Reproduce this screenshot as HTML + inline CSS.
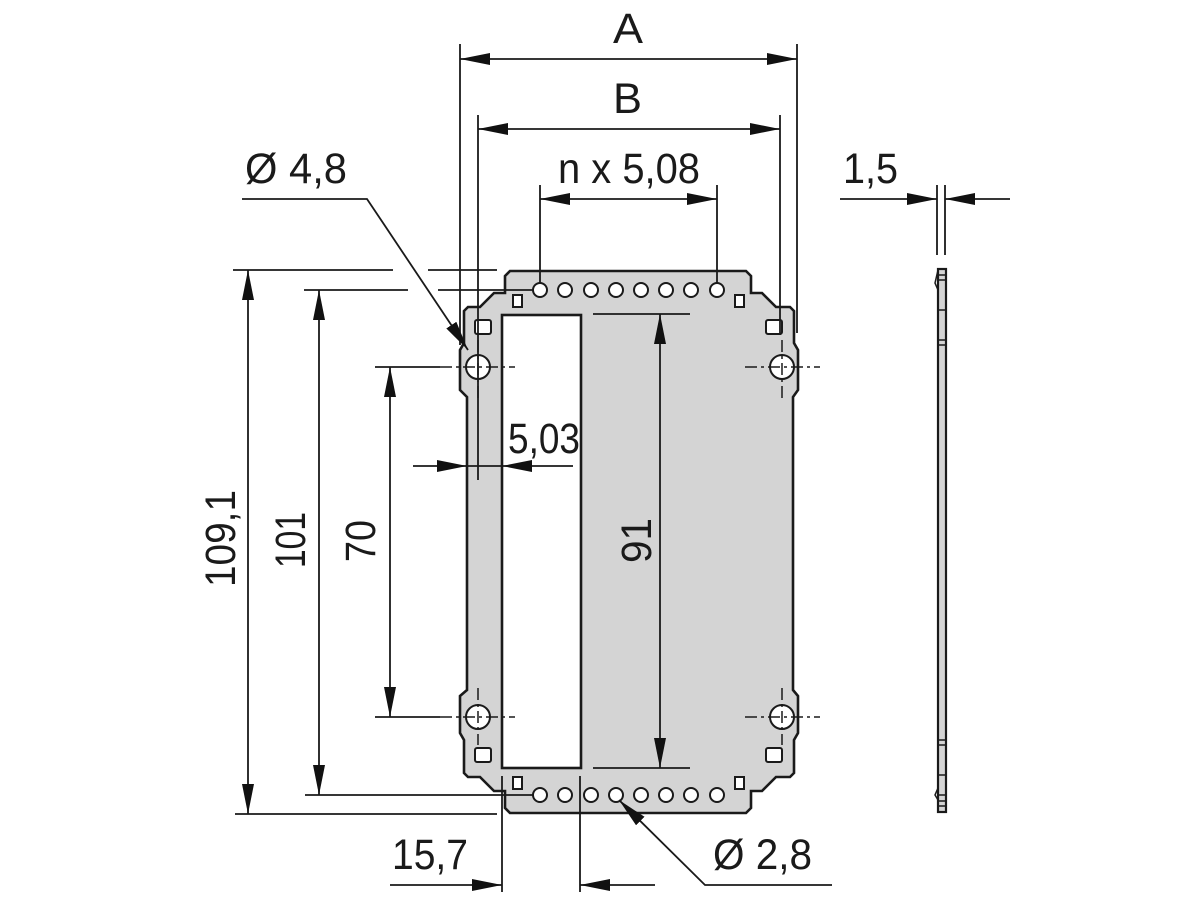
<!DOCTYPE html>
<html><head><meta charset="utf-8"><style>
html,body{margin:0;padding:0;background:#fff;}
svg{display:block;}
text{font-family:"Liberation Sans Narrow","Liberation Sans",sans-serif;fill:#1a1a1a;}
</style></head><body>
<svg width="1200" height="900" viewBox="0 0 1200 900" xmlns="http://www.w3.org/2000/svg">
<defs>
<marker id="ar" viewBox="0 0 30 12" refX="30" refY="6" markerWidth="30" markerHeight="12" markerUnits="userSpaceOnUse" orient="auto-start-reverse">
<path d="M0,0 L30,6 L0,12 Z" fill="#111"/>
</marker>
</defs>
<g stroke="#1a1a1a" stroke-width="2" fill="none">
<path fill="#d4d4d4" stroke-width="2.6" d="M510,271 L746,271 L751,276 L751,293 L762,293 L776,307 L790,307 L794,311 L794,343 L798,350 L798,390 L793,397 L793,690 L798,696 L798,733 L794,740 L794,773 L790,777 L776,777 L762,791 L751,791 L751,808 L746,813 L510,813 L505,808 L505,791 L494,791 L480,777 L468,777 L464,773 L464,740 L460,733 L460,696 L467,690 L467,397 L460,390 L460,350 L464,343 L464,311 L468,307 L480,307 L494,293 L505,293 L505,276 Z"/>
<rect x="502" y="315" width="79" height="453" fill="#fff" stroke-width="2.6"/>
<g fill="#fff" stroke-width="2">
<circle cx="540" cy="290" r="7"/><circle cx="565" cy="290" r="7"/><circle cx="591" cy="290" r="7"/><circle cx="616" cy="290" r="7"/><circle cx="641" cy="290" r="7"/><circle cx="666" cy="290" r="7"/><circle cx="691" cy="290" r="7"/><circle cx="717" cy="290" r="7"/>
<circle cx="540" cy="795" r="7"/><circle cx="565" cy="795" r="7"/><circle cx="591" cy="795" r="7"/><circle cx="616" cy="795" r="7"/><circle cx="641" cy="795" r="7"/><circle cx="666" cy="795" r="7"/><circle cx="691" cy="795" r="7"/><circle cx="717" cy="795" r="7"/>
<circle cx="478" cy="367" r="12"/><circle cx="782" cy="367" r="12"/><circle cx="478" cy="717" r="12"/><circle cx="782" cy="717" r="12"/>
<rect x="475" y="320" width="16" height="14" rx="2"/><rect x="766" y="320" width="16" height="14" rx="2"/>
<rect x="475" y="748" width="16" height="14" rx="2"/><rect x="766" y="748" width="16" height="14" rx="2"/>
<rect x="513" y="295" width="9" height="12"/><rect x="735" y="295" width="9" height="12"/>
<rect x="513" y="777" width="9" height="12"/><rect x="735" y="777" width="9" height="12"/>
</g>
<g stroke-width="1.5" stroke-dasharray="12,4,3,4">
<line x1="440" y1="367" x2="515" y2="367"/><line x1="745" y1="367" x2="820" y2="367"/>
<line x1="440" y1="717" x2="515" y2="717"/><line x1="745" y1="717" x2="820" y2="717"/>
<line x1="478" y1="340" x2="478" y2="400"/><line x1="782" y1="340" x2="782" y2="400"/>
<line x1="478" y1="688" x2="478" y2="745"/><line x1="782" y1="688" x2="782" y2="745"/>
</g>
<g stroke-width="1.8">
<line x1="460" y1="44" x2="460" y2="345"/><line x1="797" y1="44" x2="797" y2="333"/>
<line x1="478" y1="115" x2="478" y2="480"/><line x1="780" y1="115" x2="780" y2="335"/>
<line x1="540" y1="185" x2="540" y2="283"/><line x1="717" y1="185" x2="717" y2="283"/>
<line x1="937" y1="185" x2="937" y2="255"/><line x1="945" y1="185" x2="945" y2="255"/>
<line x1="233" y1="270" x2="393" y2="270"/><line x1="428" y1="270" x2="497" y2="270"/>
<line x1="304" y1="290" x2="408" y2="290"/><line x1="438" y1="290" x2="533" y2="290"/>
<line x1="375" y1="367" x2="440" y2="367"/>
<line x1="375" y1="717" x2="440" y2="717"/>
<line x1="305" y1="795" x2="533" y2="795"/>
<line x1="235" y1="814" x2="497" y2="814"/>
<line x1="593" y1="314" x2="690" y2="314"/><line x1="593" y1="768" x2="690" y2="768"/>
<line x1="502" y1="776" x2="502" y2="892"/><line x1="580" y1="776" x2="580" y2="892"/>
</g>
<g stroke-width="1.8">
<line x1="460" y1="59" x2="797" y2="59" marker-start="url(#ar)" marker-end="url(#ar)"/>
<line x1="478" y1="129" x2="780" y2="129" marker-start="url(#ar)" marker-end="url(#ar)"/>
<line x1="540" y1="199" x2="717" y2="199" marker-start="url(#ar)" marker-end="url(#ar)"/>
<line x1="840" y1="199" x2="937" y2="199" marker-end="url(#ar)"/>
<line x1="1010" y1="199" x2="945" y2="199" marker-end="url(#ar)"/>
<line x1="248" y1="270" x2="248" y2="814" marker-start="url(#ar)" marker-end="url(#ar)"/>
<line x1="319" y1="290" x2="319" y2="795" marker-start="url(#ar)" marker-end="url(#ar)"/>
<line x1="390" y1="367" x2="390" y2="717" marker-start="url(#ar)" marker-end="url(#ar)"/>
<line x1="660" y1="314" x2="660" y2="768" marker-start="url(#ar)" marker-end="url(#ar)"/>
<line x1="413" y1="466" x2="467" y2="466" marker-end="url(#ar)"/>
<line x1="573" y1="466" x2="502" y2="466" marker-end="url(#ar)"/>
<line x1="467" y1="466" x2="502" y2="466"/>
<line x1="390" y1="885" x2="502" y2="885" marker-end="url(#ar)"/>
<line x1="655" y1="885" x2="580" y2="885" marker-end="url(#ar)"/>
<polyline points="242,199 367,199 468,350" marker-end="url(#ar)"/>
<polyline points="832,885 705,885 619,800" marker-end="url(#ar)"/>
</g>
<rect x="938" y="269" width="8" height="543" fill="#d4d4d4" stroke-width="2.2"/>
<g stroke-width="1.5">
<line x1="938" y1="275" x2="946" y2="275"/><line x1="938" y1="806" x2="946" y2="806"/>
<line x1="938" y1="280" x2="946" y2="280"/><line x1="938" y1="801" x2="946" y2="801"/>
<line x1="938" y1="310" x2="946" y2="310"/><line x1="938" y1="340" x2="946" y2="340"/>
<line x1="938" y1="345" x2="946" y2="345"/><line x1="938" y1="740" x2="946" y2="740"/>
<line x1="938" y1="745" x2="946" y2="745"/><line x1="938" y1="775" x2="946" y2="775"/>
<line x1="938" y1="795" x2="946" y2="795"/>
<path d="M938,270 L935,283 L938,290"/><path d="M938,788 L935,795 L938,800"/>
</g>
</g>
<g font-size="43" lengthAdjust="spacingAndGlyphs">
<text x="613" y="43" textLength="30" lengthAdjust="spacingAndGlyphs">A</text>
<text x="613" y="113" textLength="29" lengthAdjust="spacingAndGlyphs">B</text>
<text x="558" y="183" textLength="142" lengthAdjust="spacingAndGlyphs">n x 5,08</text>
<text x="245" y="183" textLength="102" lengthAdjust="spacingAndGlyphs">Ø 4,8</text>
<text x="843" y="183" textLength="55" lengthAdjust="spacingAndGlyphs">1,5</text>
<text x="508" y="453" textLength="72" lengthAdjust="spacingAndGlyphs">5,03</text>
<text x="392" y="869" textLength="76" lengthAdjust="spacingAndGlyphs">15,7</text>
<text x="713" y="869" textLength="99" lengthAdjust="spacingAndGlyphs">Ø 2,8</text>
<text transform="translate(235,587) rotate(-90)" textLength="97" lengthAdjust="spacingAndGlyphs">109,1</text>
<text transform="translate(305,568) rotate(-90)" textLength="56" lengthAdjust="spacingAndGlyphs">101</text>
<text transform="translate(375,562) rotate(-90)" textLength="42" lengthAdjust="spacingAndGlyphs">70</text>
<text transform="translate(651,563) rotate(-90)" textLength="45" lengthAdjust="spacingAndGlyphs">91</text>
</g>
</svg>
</body></html>
